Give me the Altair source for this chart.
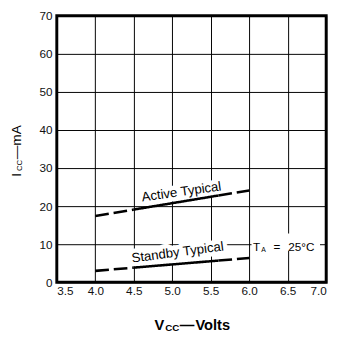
import altair as alt
import pandas as pd

# ---- data ----
x_ticks = [3.5, 4.0, 4.5, 5.0, 5.5, 6.0, 6.5, 7.0]
y_ticks = [0, 10, 20, 30, 40, 50, 60, 70]
voltage = [4.0, 4.5, 5.6, 6.0]
active_ma = [17.4, 19.1, 22.8, 24.1]
standby_ma = [3.0, 3.85, 5.7, 6.4]
segment_style = ["dashed", "solid", "dashed"]

series_labels = ["Active Typical", "Standby Typical"]
label_v = [5.12, 5.07]
label_ma = [23.7, 7.8]
label_angle = [352, 352.5]

ta_v = [6.05]
ta_ma = [9.2]
# white backing box behind the "TA = 25°C" note (data units)
ta_box_v = [6.03, 6.92]
ta_box_ma = [8.3, 12.8]

FONT = "Liberation Sans"

rows = []
for name, vals in (("Active", active_ma), ("Standby", standby_ma)):
    for i, st in enumerate(segment_style):
        for j in (i, i + 1):
            rows.append({"series": name, "seg": f"{name}{i}", "style": st,
                         "v": voltage[j], "ma": vals[j]})
lines_df = pd.DataFrame(rows)
labels_df = pd.DataFrame({"label": series_labels, "v": label_v, "ma": label_ma,
                          "angle": label_angle})
ta_df = pd.DataFrame({"v": ta_v, "ma": ta_ma})
box_df = pd.DataFrame({"v": [ta_box_v[0]], "v2": [ta_box_v[1]],
                       "ma": [ta_box_ma[0]], "ma2": [ta_box_ma[1]]})

X = alt.X("v:Q", scale=alt.Scale(domain=[3.5, 7.0], nice=False, zero=False),
          axis=alt.Axis(values=x_ticks, format=".1f", title=None))
Y = alt.Y("ma:Q", scale=alt.Scale(domain=[0, 70], nice=False),
          axis=alt.Axis(values=y_ticks, format="d", title=None))

lines = alt.Chart(lines_df).mark_line(color="black", strokeWidth=2.6, strokeCap="butt").encode(
    x=X, y=Y, detail="seg:N",
    strokeDash=alt.StrokeDash("style:N", scale=alt.Scale(domain=["solid", "dashed"],
                                                         range=[[1, 0], [14, 5]]), legend=None),
)

def label_layer(halo):
    kw = dict(font=FONT, fontSize=13.5, baseline="middle", align="center")
    if halo:
        kw.update(fill="white", stroke="white", strokeWidth=9, strokeJoin="round")
    else:
        kw.update(color="black")
    return alt.Chart(labels_df).mark_text(**kw).encode(
        x=X, y=Y, text="label:N", angle=alt.Angle("angle:Q", scale=None))

ta_box = alt.Chart(box_df).mark_rect(color="white").encode(
    x=X, x2="v2:Q", y=Y, y2="ma2:Q")

def ta_layer():
    pieces = [("T", 0, 0, 12), ("A", 8.5, 3, 7), ("=", 21, 0, 12), ("25°C", 36, 0, 12)]
    out = []
    for t, dx, dy, fs in pieces:
        out.append(alt.Chart(ta_df).mark_text(
            text=t, dx=dx, dy=dy, fontSize=fs, font=FONT, align="left", baseline="middle",
            color="black").encode(x=X, y=Y))
    return out

one = pd.DataFrame({"k": [0]})

def title_piece(text, px, py, dx, dy, fs, bold, angle=0):
    kw = dict(text=text, dx=dx, dy=dy, fontSize=fs, font=FONT, align="left",
              baseline="middle", color="black")
    if bold:
        kw["fontWeight"] = "bold"
    if angle:
        kw["angle"] = angle
    return alt.Chart(one).mark_text(**kw).encode(x=alt.value(px), y=alt.value(py))

y_title = [
    title_piece("I", -41, 165, 0, 0, 14, False, 270),
    title_piece("CC", -41, 165, 6, 3, 8, False, 270),
    title_piece("—mA", -41, 165, 18, 0, 14, False, 270),
]
x_title = [
    title_piece("V", 100, 317, 0, 0, 15, True),
    title_piece("CC", 100, 317, 11, 3, 10, True),
    title_piece("—", 100, 317, 26, 0, 15, True),
    title_piece("Volts", 100, 317, 42, 0, 15, True),
]

chart = alt.layer(
    label_layer(True), ta_box, lines, label_layer(False), *ta_layer(),
    *y_title, *x_title,
).properties(
    width=276, height=273,
    autosize=alt.AutoSizeParams(type="none"),
    padding={"left": 50, "top": 4, "right": 8, "bottom": 50},
).configure_axis(
    grid=True, gridColor="black", gridWidth=1, gridOpacity=1, domain=False, ticks=False,
    labelFont=FONT, labelFontSize=12, labelColor="#111",
).configure_axisX(labelPadding=4).configure_axisY(labelPadding=5).configure_view(
    stroke="black", strokeWidth=3)

chart.save("out.html", embed_options={"renderer": "svg", "actions": False})
